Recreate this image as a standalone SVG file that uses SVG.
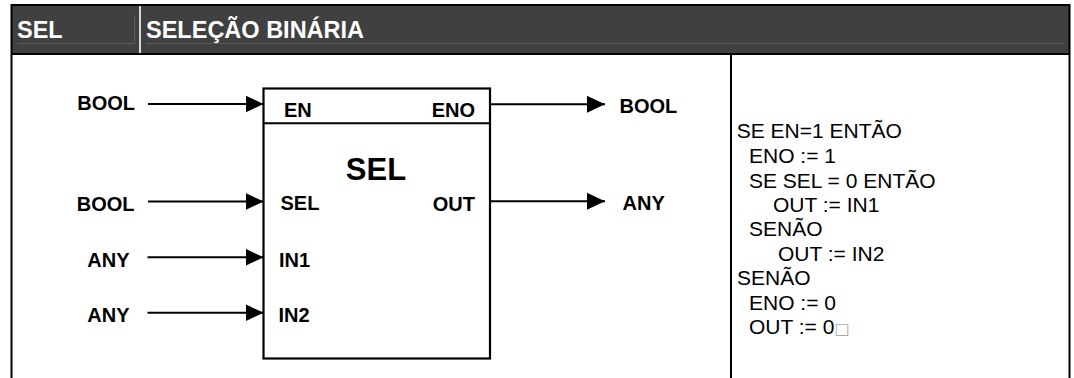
<svg xmlns="http://www.w3.org/2000/svg" width="1074" height="378" viewBox="0 0 1074 378">
<defs>
<marker id="arr" markerUnits="userSpaceOnUse" viewBox="0 0 18 17" refX="18" refY="8.5" markerWidth="18" markerHeight="17" orient="auto">
<path d="M0,0 L18,8.5 L0,17 Z" fill="#000"/>
</marker>
<style>
.frame{fill:none;stroke:#000;stroke-width:2}
.hd{font-family:"Liberation Sans",Arial,sans-serif;font-weight:bold;font-size:23.5px;fill:#fff}
.lbl{font-family:"Liberation Sans",Arial,sans-serif;font-weight:bold;font-size:20px;fill:#000}
.big{font-family:"Liberation Sans",Arial,sans-serif;font-weight:bold;font-size:31px;fill:#000}
.code{font-family:"Liberation Sans",Arial,sans-serif;font-size:21px;fill:#000}
.wire{stroke:#000;stroke-width:2;fill:none;marker-end:url(#arr)}
.faint{stroke:#5c5c5c;stroke-width:1;fill:none}
</style>
</defs>
<rect x="0" y="0" width="1074" height="378" fill="#fff"/>

<g id="header">
<rect x="11.5" y="5" width="1058" height="49" fill="#404040"/>
<path class="faint" d="M17,43.5 H134.5 V15 M146,43.5 H1064"/>
<line x1="140" y1="5" x2="140" y2="54" stroke="#fff" stroke-width="1.6"/>
<text class="hd" x="17" y="38.3">SEL</text>
<text class="hd" x="146" y="38.3">SELEÇÃO BINÁRIA</text>
</g>

<g id="frame">
<path class="frame" d="M11.5,378 V5 H1069.5 V378 M11.5,54 H1069.5 M731,54 V378"/>
</g>

<g id="sel-block">
<rect x="263.5" y="88.5" width="226.5" height="270" fill="#fff" stroke="#000" stroke-width="2.2"/>
<line x1="263.5" y1="123.3" x2="490" y2="123.3" stroke="#000" stroke-width="2"/>
<text class="big" x="376" y="180" text-anchor="middle">SEL</text>
<text class="lbl" x="284" y="116.7">EN</text>
<text class="lbl" x="475" y="116.7" text-anchor="end">ENO</text>
<text class="lbl" x="280.5" y="210">SEL</text>
<text class="lbl" x="475" y="211" text-anchor="end">OUT</text>
<text class="lbl" x="279" y="266.7">IN1</text>
<text class="lbl" x="278.5" y="321.7">IN2</text>
</g>

<g id="in-en"><text class="lbl" x="135" y="110" text-anchor="end">BOOL</text></g>
<g id="in-sel"><text class="lbl" x="134.5" y="210.5" text-anchor="end">BOOL</text></g>
<g id="in-in1"><text class="lbl" x="129.5" y="266.7" text-anchor="end">ANY</text></g>
<g id="in-in2"><text class="lbl" x="129.5" y="321.7" text-anchor="end">ANY</text></g>
<g id="out-eno"><text class="lbl" x="619.5" y="113.3">BOOL</text></g>
<g id="out-out"><text class="lbl" x="622.5" y="210">ANY</text></g>

<g id="connectors">
<line class="wire" x1="148" y1="104" x2="263.5" y2="104"/>
<line class="wire" x1="148" y1="201.5" x2="263.5" y2="201.5"/>
<line class="wire" x1="147.5" y1="257.3" x2="263.5" y2="257.3"/>
<line class="wire" x1="147.5" y1="312.7" x2="263.5" y2="312.7"/>
<line class="wire" x1="490" y1="104.3" x2="605" y2="104.3"/>
<line class="wire" x1="490" y1="201.3" x2="605" y2="201.3"/>
</g>

<g id="logic">
<text class="code" x="736.7" y="138">SE EN=1 ENTÃO</text>
<text class="code" x="749" y="162.5">ENO := 1</text>
<text class="code" x="749" y="187.5">SE SEL = 0 ENTÃO</text>
<text class="code" x="773" y="212">OUT := IN1</text>
<text class="code" x="749" y="236">SENÃO</text>
<text class="code" x="778" y="261">OUT := IN2</text>
<text class="code" x="737" y="285">SENÃO</text>
<text class="code" x="749" y="309.5">ENO := 0</text>
<text class="code" x="749" y="333.5">OUT := 0<tspan fill="#aaa" font-size="16" font-family="'DejaVu Sans',sans-serif">□</tspan></text>
</g>
</svg>
